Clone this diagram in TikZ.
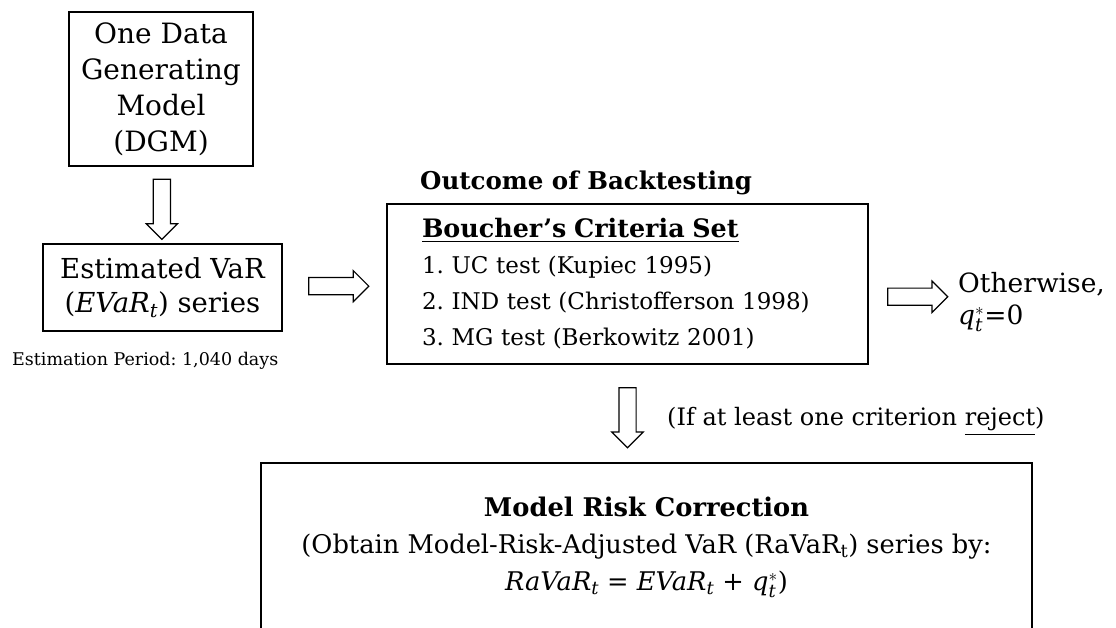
\documentclass[tikz,border=0pt]{standalone}
\usepackage{amsmath}
\usepackage{fontspec}
\setmainfont{DejaVu Serif}
\usetikzlibrary{shapes.arrows}
\usetikzlibrary{calc}

\newcommand{\vit}[1]{\text{\itshape #1}}
\frenchspacing

\tikzset{
    box/.style={draw, line width=1.5pt, align=center, inner sep=0pt},
    blockarrow/.style={single arrow, draw, line width=1.2pt, minimum height=60pt, minimum width=30pt, single arrow head extend=7pt, inner xsep=0pt, inner ysep=8pt},
}

\begin{document}
\begin{tikzpicture}[x=1pt,y=-1pt]
    \useasboundingbox (0,0) rectangle (1116,628);
    \clip (0,0) rectangle (1116,628);

    \node[box, minimum width=184pt, minimum height=154pt, font=\fontsize{28}{36}\selectfont] (dgm) at (161,89) {One Data\\Generating\\Model\\(DGM)};
    \node[box, minimum width=239pt, minimum height=87pt, font=\fontsize{27.5}{34}\selectfont] (evar) at (162.5,287.5) {Estimated VaR\\($\vit{EVaR}_{\vit{t}}$) series};
    \node[anchor=west, inner sep=0pt, font=\fontsize{17.5}{20}\selectfont] (eper) at (12,361) {Estimation Period: 1,040 days};

    \node[anchor=west, inner sep=0pt, font=\bfseries\fontsize{24.5}{28}\selectfont] (outc) at (420,183) {Outcome of Backtesting};
    \node[box, minimum width=481pt, minimum height=160pt, text width=411pt, align=left, font=\fontsize{23}{36}\selectfont] (crit) at (627.5,284) {{\fontsize{25.4}{36}\selectfont\textbf{\underline{Boucher’s Criteria Set}}}\\1. UC test (Kupiec 1995)\\2. IND test (Christofferson 1998)\\3. MG test (Berkowitz 2001)};
    \node[anchor=west, inner sep=0pt, align=left, font=\fontsize{26.5}{32}\selectfont] (other) at (958,302) {Otherwise,\\$\vit{q}_{\vit{t}}^{*}$=0};

    \node[anchor=west, inner sep=0pt, font=\fontsize{24}{28}\selectfont] (cond) at (667,422) {(If at least one criterion \underline{reject})};
    \node[box, anchor=north, minimum width=771pt, inner ysep=34pt, font=\fontsize{25.7}{37}\selectfont] (mrc) at (646.5,462) {\textbf{Model Risk Correction}\\(Obtain Model-Risk-Adjusted VaR (RaVaR$_{\text{t}}$) series by:\\$\vit{RaVaR}_{\vit{t}}$ = $\vit{EVaR}_{\vit{t}}$ + $\vit{q}_{\vit{t}}^{*}$)\rule[-120pt]{0pt}{0pt}};

    % block arrows between the boxes
    \path (dgm) -- node[blockarrow, rotate=-90] (ar1) {} (evar);
    \path (evar) -- node[blockarrow] (ar2) {} (crit);
    \path (crit) -- node[blockarrow] (ar3) {} (other);
    \path (crit.south) -- node[blockarrow, rotate=-90] (ar4) {} (crit.south |- mrc.north);
\end{tikzpicture}
\end{document}
